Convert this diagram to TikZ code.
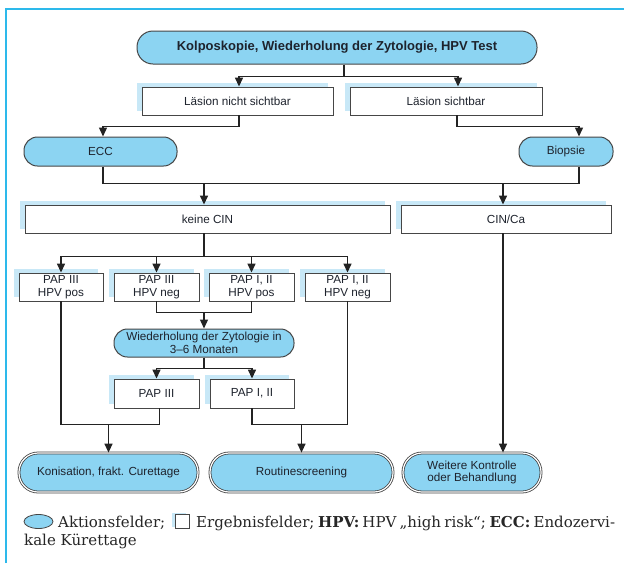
\documentclass[tikz,border=0pt]{standalone}
\usepackage{fontspec}
\setmainfont{Liberation Sans}
\newfontfamily\legendfont{DejaVu Serif}
\usetikzlibrary{arrows.meta,calc,shapes.geometric,shadows}
\definecolor{actblue}{RGB}{140,212,242}
\definecolor{shadowblue}{RGB}{200,232,247}
\definecolor{framecol}{RGB}{45,185,235}
\definecolor{bordergray}{RGB}{70,70,70}
\definecolor{linegray}{RGB}{35,35,35}
\definecolor{txt}{RGB}{30,35,45}
\begin{document}
\begin{tikzpicture}[x=1pt,y=-1pt,
  boxfont/.style={font=\fontsize{11.7}{12.5}\selectfont, text=txt},
  action/.style={boxfont, draw=bordergray, fill=actblue, line width=1pt,
    rounded corners=13.5pt, minimum height=29pt, inner sep=0pt, align=center},
  result/.style={boxfont, draw=bordergray, fill=white, line width=0.9pt,
    minimum height=28pt, inner sep=0pt, align=center,
    drop shadow={fill=shadowblue, opacity=1, shadow xshift=-5pt, shadow yshift=4pt}},
  final/.style={action, minimum height=39pt, rounded corners=19pt, line width=0.8pt,
    double=white, double distance=1.2pt},
  conn/.style={draw=linegray, line width=1.4pt},
  arr/.style={conn, -{Triangle[width=8pt,length=9pt]}},
  legend/.style={font=\legendfont\fontsize{15}{18}\selectfont, text=black!85, inner sep=0pt, anchor=base west}
]
\useasboundingbox (0,0) rectangle (624,563);
\fill[white] (0,0) rectangle (624,563);
\draw[framecol, line width=2.2pt] (6,563) -- (6,9) -- (624,9);

% nodes
\node[action, font=\bfseries\fontsize{13}{15}\selectfont, minimum width=400pt, minimum height=33pt, rounded corners=16pt] (kolpo) at (337,47.5) {Kolposkopie, Wiederholung der Zytologie, HPV Test};
\node[result, minimum width=191pt] (ln) at (237.5,101) {Läsion nicht sichtbar};
\node[result, minimum width=192pt] (ls) at (446,101) {Läsion sichtbar};
\node[action, minimum width=153pt] (ecc) at (100.5,151.5) {ECC};
\node[action, minimum width=94pt] (bio) at (566,151.5) {Biopsie};
\node[result, minimum width=365pt] (kc) at (207.5,219) {keine CIN};
\node[result, minimum width=210pt] (cin) at (506,219) {CIN/Ca};
\node[result, minimum width=84pt] (p1) at (61,287) {PAP III\\HPV pos};
\node[result, minimum width=85pt] (p2) at (156.5,287) {PAP III\\HPV neg};
\node[result, minimum width=85pt] (p3) at (251.5,287) {PAP I, II\\HPV pos};
\node[result, minimum width=85pt] (p4) at (347.5,287) {PAP I, II\\HPV neg};
\node[action, minimum width=180pt, minimum height=28pt] (wz) at (204,343) {Wiederholung der Zytologie in\\3--6 Monaten};
\node[result, minimum width=85pt, minimum height=29pt] (q1) at (156.5,393.5) {PAP III};
\node[result, minimum width=84pt, minimum height=29pt] (q2) at (252,393.5) {PAP I, II};
\node[final, minimum width=179pt] (k) at (108.5,472.5) {Konisation, frakt. Curettage};
\node[final, minimum width=183pt] (r) at (301.5,472.5) {Routinescreening};
\node[final, minimum width=138pt] (wk) at (472,472.5) {Weitere Kontrolle\\oder Behandlung};

% connectors
\coordinate (j1) at ($(kolpo.south)+(7,12)$);
\draw[conn] ($(kolpo.south)+(7,0)$) -- (j1);
\draw[arr] (j1) -| ($(ln.north)+(1.5,0)$);
\draw[arr] (j1) -| ($(ls.north)+(12,0)$);
\draw[arr] ($(ln.south)+(1.5,0)$) -- ++(0,11) -| ($(ecc.north)+(2.5,0)$);
\draw[arr] ($(ls.south)+(11,0)$) -- ++(0,11) -| ($(bio.north)+(13,0)$);
\coordinate (j2) at ($(ecc.south)+(2.5,17)$);
\draw[conn] ($(ecc.south)+(2.5,0)$) -- (j2) -- ($(bio.south)+(13,17)$) -- ($(bio.south)+(13,0)$);
\coordinate (kcn) at ($(kc.north)+(-3.5,0)$);
\coordinate (cinn) at ($(cin.north)+(-3,0)$);
\draw[arr] (j2 -| kcn) -- (kcn);
\draw[arr] (j2 -| cinn) -- (cinn);
\coordinate (j3) at ($(kc.south)+(-3.5,23)$);
\draw[conn] ($(kc.south)+(-3.5,0)$) -- (j3);
\draw[arr] (j3) -| (p1.north);
\draw[arr] (j3) -| (p2.north);
\draw[arr] (j3) -| (p3.north);
\draw[arr] (j3) -| (p4.north);
\coordinate (j4) at ($(p2.south)+(0,11)$);
\draw[conn] (p2.south) -- (j4) -| (p3.south);
\draw[arr] (j4 -| wz.north) -- (wz.north);
\coordinate (j5) at ($(wz.south)+(0,11)$);
\draw[conn] (wz.south) -- (j5);
\draw[arr] (j5) -| (q1.north);
\draw[arr] (j5) -| (q2.north);
\coordinate (q1s) at ($(q1.south)+(3,0)$);
\coordinate (j6) at ($(q1.south)+(3,16)$);
\draw[conn] (p1.south) |- (j6) -- (q1s);
\draw[arr] (j6 -| k.north) -- (k.north);
\draw[conn] (q2.south) |- (p4.south |- j6) -- (p4.south);
\draw[arr] (j6 -| r.north) -- (r.north);
\coordinate (c1) at ($(cin.south)+(-3,0)$);
\draw[arr] (c1) -- (c1 |- wk.north);

% legend
\node[ellipse, draw=bordergray, fill=actblue, line width=0.8pt, minimum width=29pt, minimum height=14pt, inner sep=0pt] (le) at (38.5,521.5) {};
\node[legend] (lt1) at (58,527) {Aktionsfelder;};
\node[draw=bordergray, fill=white, line width=0.8pt, minimum size=14pt, inner sep=0pt,
  drop shadow={fill=shadowblue, opacity=1, shadow xshift=-3pt, shadow yshift=2pt}] (lr) at (182,521.5) {};
\node[legend] (lt2) at (196,527) {\makebox[414pt][s]{Ergebnisfelder; \textbf{HPV:} HPV „high risk“; \textbf{ECC:} Endozervi-}};
\node[legend] (lt3) at (24,545) {kale Kürettage};
\end{tikzpicture}
\end{document}
